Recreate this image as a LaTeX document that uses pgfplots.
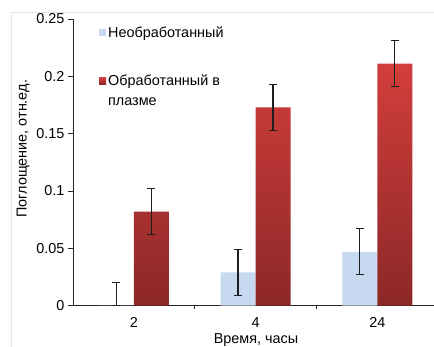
\documentclass[border=0pt]{standalone}
\usepackage{fontspec}
\setmainfont{Liberation Sans}
\usepackage{pgfplots}
\usepackage{pgfplotstable}
\pgfplotsset{compat=1.18}

\definecolor{rawblue}{RGB}{198,217,241}
\definecolor{plasmatop}{RGB}{210,62,60}
\definecolor{plasmabot}{RGB}{140,40,40}
\definecolor{plasmaleg}{RGB}{192,48,48}
\definecolor{errgray}{RGB}{30,30,30}

% x: 0 = 2 h, 1 = 4 h, 2 = 24 h
\pgfplotstableread{
x y     ep   em
0 0     0.02 0
1 0.029 0.02 0.02
2 0.047 0.02 0.02
}\untreated
\pgfplotstableread{
x y     ep   em
0 0.082 0.02 0.02
1 0.173 0.02 0.02
2 0.211 0.02 0.02
}\treated

\begin{document}
\begin{tikzpicture}[font=\fontsize{14.4}{17}\selectfont]
\useasboundingbox (-73pt,-41.3pt) rectangle (361pt,305.7pt);
% faint chart-area frame
\draw[black!10] (-61.5pt,-45pt) |- (365pt,293.7pt);
\begin{axis}[
  scale only axis, width=361pt, height=286.7pt,
  xmin=-0.5, xmax=2.466, ymin=0, ymax=0.25,
  axis x line*=bottom, axis y line*=left,
  axis line style={line width=0.8pt, black!85},
  tick style={line width=0.8pt, black!85},
  tick align=outside,
  major tick length=5pt, minor tick length=3pt,
  xtick={0,1,2}, xticklabels={2,4,24},
  major x tick style={draw=none},
  minor xtick={0.5,1.5},
  ytick={0,0.05,0.1,0.15,0.2,0.25},
  scaled y ticks=false,
  yticklabel style={/pgf/number format/fixed, /pgf/number format/precision=2},
  /pgf/number format/assume math mode=true,
  xticklabel style={yshift=-3pt},
  ylabel={Поглощение, отн.ед.},
  ylabel style={at={(axis description cs:-0.1288,0.547)}, anchor=base, rotate=0},
  xlabel={Время, часы},
  xlabel style={at={(axis description cs:0.507,-0.131)}, anchor=base},
  ybar=0pt, bar width=35pt,
  legend style={draw=none, fill=none, inner sep=0pt,
    at={(axis description cs:0.072,0.981)}, anchor=north west,
    row sep=32pt, font=\fontsize{14.4}{20}\selectfont,
    cells={align=left}},
  legend cell align=left,
  error bars/y dir=both, error bars/y explicit,
  error bars/error bar style={line width=1.2pt, errgray},
  error bars/error mark options={rotate=90, mark size=4pt, line width=1.2pt, errgray},
]
\addplot[fill=rawblue, draw=none,
  legend image code/.code={\fill[rawblue] (0pt,-3.5pt) rectangle (7pt,3.5pt);}]
  table[x=x, y=y, y error plus=ep, y error minus=em] {\untreated};
\addlegendentry{Необработанный}
\addplot[draw=none, top color=plasmatop, bottom color=plasmabot,
  legend image code/.code={\fill[plasmaleg] (0pt,6.5pt) rectangle (7pt,13.5pt);}]
  table[x=x, y=y, y error plus=ep, y error minus=em] {\treated};
\addlegendentry{Обработанный в\\плазме}
\end{axis}
\end{tikzpicture}
\end{document}
